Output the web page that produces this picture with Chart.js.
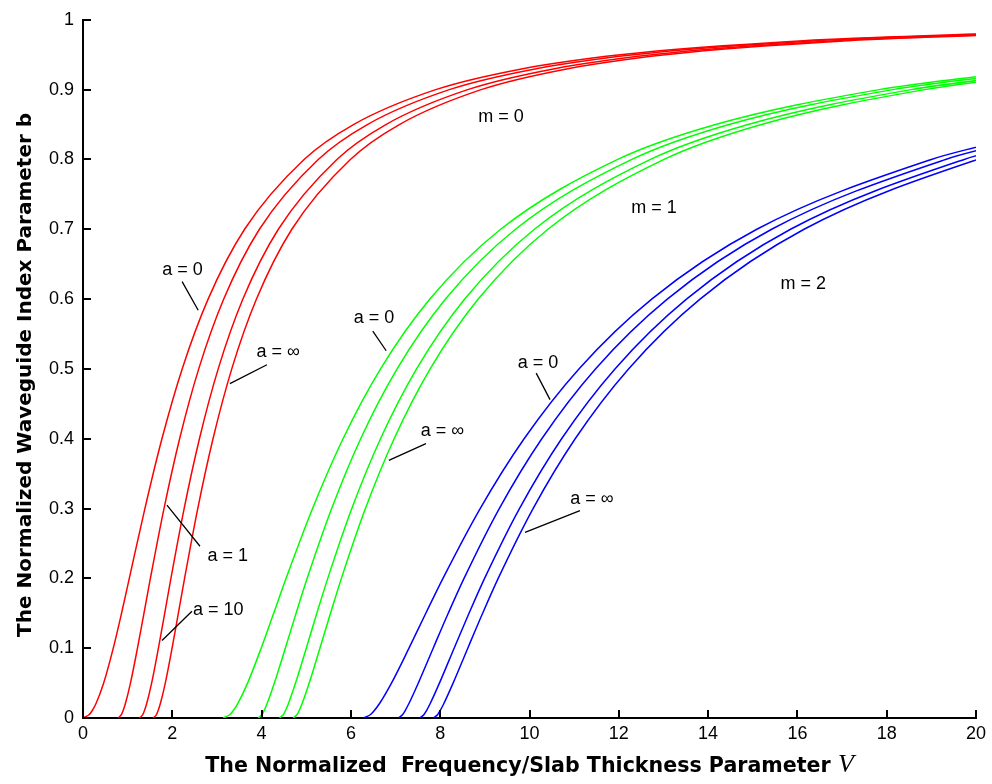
<!DOCTYPE html>
<html>
<head>
<meta charset="utf-8">
<script src="https://cdn.jsdelivr.net/npm/chart.js@4.4.1/dist/chart.umd.min.js"></script>
<style>
  html, body { margin: 0; padding: 0; background: #fff; }
  #wrap { width: 992px; height: 784px; }
</style>
</head>
<body>
<div id="wrap"><canvas id="myChart" width="992" height="784"></canvas></div>
<script>
// normalized index b levels (y) and the V values read for each curve
const bM0 = [0, 0.005, 0.01, 0.02, 0.05, 0.1, 0.15, 0.2, 0.3, 0.4, 0.5, 0.6, 0.7, 0.8, 0.85, 0.9, 0.93, 0.95, 0.97, 0.98];
const vM0A0 = [0, 0.142, 0.201, 0.287, 0.463, 0.678, 0.863, 1.037, 1.386, 1.768, 2.221, 2.802, 3.619, 4.951, 6.058, 7.900, 9.850, 12.033, 16.128, 20.208];
const vM0A1 = [0.785, 0.861, 0.895, 0.947, 1.063, 1.220, 1.365, 1.509, 1.814, 2.164, 2.592, 3.152, 3.951, 5.269, 6.368, 8.204, 10.151, 12.331, 16.426, 20.503];
const vM0A10 = [1.265, 1.339, 1.373, 1.424, 1.537, 1.689, 1.830, 1.969, 2.265, 2.608, 3.028, 3.581, 4.375, 5.686, 6.783, 8.615, 10.560, 12.740, 16.831, 20.909];
const vM0Ainf = [1.571, 1.646, 1.679, 1.730, 1.843, 1.995, 2.135, 2.275, 2.570, 2.912, 3.332, 3.885, 4.677, 5.988, 7.085, 8.917, 10.862, 13.041, 17.133, 21.211];

const bM1 = [0, 0.005, 0.01, 0.02, 0.05, 0.1, 0.15, 0.2, 0.3, 0.4, 0.5, 0.6, 0.7, 0.8, 0.85, 0.9, 0.92];
const vM1A0 = [3.142, 3.291, 3.359, 3.460, 3.686, 3.990, 4.270, 4.549, 5.141, 5.824, 6.664, 7.769, 9.355, 11.976, 14.169, 17.834, 20.187];
const vM1A1 = [3.927, 4.010, 4.052, 4.120, 4.286, 4.531, 4.772, 5.021, 5.569, 6.219, 7.035, 8.119, 9.687, 12.293, 14.470, 18.139, 20.489];
const vM1A10 = [4.406, 4.489, 4.531, 4.597, 4.760, 5.001, 5.237, 5.482, 6.020, 6.663, 7.471, 8.549, 10.110, 12.710, 14.894, 18.550, 20.899];
const vM1Ainf = [4.712, 4.795, 4.837, 4.904, 5.066, 5.306, 5.543, 5.787, 6.325, 6.968, 7.775, 8.852, 10.413, 13.013, 15.196, 18.852, 21.201];

const bM2 = [0, 0.005, 0.01, 0.02, 0.05, 0.1, 0.15, 0.2, 0.3, 0.4, 0.5, 0.6, 0.7, 0.8, 0.82];
const vM2A0 = [6.283, 6.441, 6.516, 6.634, 6.909, 7.301, 7.678, 8.062, 8.895, 9.879, 11.107, 12.737, 15.091, 19.001, 20.149];
const vM2A1 = [7.069, 7.160, 7.210, 7.294, 7.509, 7.843, 8.180, 8.534, 9.323, 10.275, 11.477, 13.086, 15.423, 19.318, 20.464];
const vM2A10 = [7.548, 7.638, 7.688, 7.771, 7.983, 8.312, 8.645, 8.994, 9.775, 10.719, 11.914, 13.516, 15.846, 19.735, 20.879];
const vM2Ainf = [7.854, 7.945, 7.994, 8.077, 8.289, 8.618, 8.950, 9.299, 10.080, 11.023, 12.218, 13.819, 16.149, 20.038, 21.182];

const xTicks = [0, 2, 4, 6, 8, 10, 12, 14, 16, 18, 20];
const yTicks = [0, 0.1, 0.2, 0.3, 0.4, 0.5, 0.6, 0.7, 0.8, 0.9, 1];

// labels drawn on the plot, placed in data units (V, b)
const notes = [
  { text: 'a = 0', v: 2.23, b: 0.641 },
  { text: 'a = \u221E', v: 4.37, b: 0.524 },
  { text: 'a = 1', v: 3.24, b: 0.232 },
  { text: 'a = 10', v: 3.03, b: 0.154 },
  { text: 'a = 0', v: 6.52, b: 0.573 },
  { text: 'a = \u221E', v: 8.05, b: 0.411 },
  { text: 'a = 0', v: 10.19, b: 0.508 },
  { text: 'a = \u221E', v: 11.40, b: 0.314 },
  { text: 'm = 0', v: 9.36, b: 0.861 },
  { text: 'm = 1', v: 12.79, b: 0.730 },
  { text: 'm = 2', v: 16.13, b: 0.621 }
];
const leaders = [
  [2.22, 0.625, 2.58, 0.584],
  [4.12, 0.506, 3.29, 0.479],
  [1.88, 0.305, 2.62, 0.246],
  [2.44, 0.153, 1.77, 0.111],
  [6.49, 0.554, 6.79, 0.526],
  [7.68, 0.393, 6.85, 0.369],
  [10.15, 0.494, 10.46, 0.456],
  [11.13, 0.297, 9.90, 0.266]
];

function curve(vs, bs, color) {
  return {
    data: vs.map((v, i) => ({ x: v, y: bs[i] })),
    borderColor: color,
    borderWidth: 1.5,
    pointRadius: 0,
    fill: false,
    cubicInterpolationMode: 'monotone'
  };
}

const RED = '#ff0000', GREEN = '#00ff00', BLUE = '#0000ff';

const extras = {
  id: 'extras',
  afterDraw(chart) {
    const ctx = chart.ctx;
    const xs = chart.scales.x, ys = chart.scales.y;
    const area = chart.chartArea;
    ctx.save();
    // inward tick marks
    ctx.strokeStyle = '#000';
    ctx.lineWidth = 2;
    ctx.beginPath();
    xTicks.forEach(t => {
      const px = Math.round(xs.getPixelForValue(t));
      ctx.moveTo(px, area.bottom);
      ctx.lineTo(px, area.bottom - 8);
    });
    yTicks.forEach(t => {
      const py = Math.round(ys.getPixelForValue(t));
      ctx.moveTo(area.left, py);
      ctx.lineTo(area.left + 8, py);
    });
    ctx.stroke();

    // leader lines
    ctx.lineWidth = 1.3;
    ctx.beginPath();
    leaders.forEach(l => {
      ctx.moveTo(xs.getPixelForValue(l[0]), ys.getPixelForValue(l[1]));
      ctx.lineTo(xs.getPixelForValue(l[2]), ys.getPixelForValue(l[3]));
    });
    ctx.stroke();

    // annotations
    ctx.fillStyle = '#000';
    ctx.font = '18px "Liberation Sans", Arial, sans-serif';
    ctx.textAlign = 'center';
    ctx.textBaseline = 'middle';
    notes.forEach(n => {
      ctx.fillText(n.text, xs.getPixelForValue(n.v), ys.getPixelForValue(n.b));
    });

    // axis titles
    const titleFont = 'bold 20.6px "DejaVu Sans", sans-serif';
    const vFont = 'italic 26px "Liberation Serif", serif';
    ctx.textBaseline = 'alphabetic';
    ctx.textAlign = 'left';
    const xText = 'The Normalized  Frequency/Slab Thickness Parameter ';
    ctx.font = titleFont;
    const w1 = ctx.measureText(xText).width;
    ctx.font = vFont;
    const w2 = ctx.measureText('V').width;
    const cx = (area.left + area.right) / 2;
    const x0 = cx - (w1 + w2) / 2;
    ctx.font = titleFont;
    ctx.fillText(xText, x0, 772);
    ctx.font = vFont;
    ctx.fillText('V', x0 + w1, 772);

    ctx.font = 'bold 20px "DejaVu Sans", sans-serif';
    ctx.translate(31, (area.top + area.bottom) / 2 + 6);
    ctx.rotate(-Math.PI / 2);
    ctx.textAlign = 'center';
    ctx.fillText('The Normalized Waveguide Index Parameter b', 0, 0);
    ctx.restore();
  }
};

const ctx = document.getElementById('myChart').getContext('2d');
const myChart = new Chart(ctx, {
  type: 'line',
  data: {
    datasets: [
      curve(vM0A0, bM0, RED),
      curve(vM0A1, bM0, RED),
      curve(vM0A10, bM0, RED),
      curve(vM0Ainf, bM0, RED),
      curve(vM1A0, bM1, GREEN),
      curve(vM1A1, bM1, GREEN),
      curve(vM1A10, bM1, GREEN),
      curve(vM1Ainf, bM1, GREEN),
      curve(vM2A0, bM2, BLUE),
      curve(vM2A1, bM2, BLUE),
      curve(vM2A10, bM2, BLUE),
      curve(vM2Ainf, bM2, BLUE)
    ]
  },
  options: {
    responsive: false,
    animation: false,
    layout: { padding: { left: 0, right: 16, top: 14, bottom: 0 } },
    plugins: {
      legend: { display: false },
      tooltip: { enabled: false },
      title: { display: false }
    },
    scales: {
      x: {
        type: 'linear',
        min: 0,
        max: 20,
        afterFit: s => { s.height = 66; },
        afterBuildTicks: s => { s.ticks = xTicks.map(v => ({ value: v })); },
        ticks: {
          color: '#000',
          padding: 5,
          maxRotation: 0,
          font: { family: '"Liberation Sans", Arial, sans-serif', size: 18 }
        },
        grid: { display: true, drawOnChartArea: false, drawTicks: false, color: '#000' },
        border: { display: true, color: '#000', width: 2 }
      },
      y: {
        type: 'linear',
        min: 0,
        max: 1,
        afterFit: s => { s.width = 83; },
        afterBuildTicks: s => { s.ticks = yTicks.map(v => ({ value: v })); },
        ticks: {
          color: '#000',
          padding: 9,
          callback: v => String(Math.round(v * 10) / 10),
          font: { family: '"Liberation Sans", Arial, sans-serif', size: 18 }
        },
        grid: { display: true, drawOnChartArea: false, drawTicks: false, color: '#000' },
        border: { display: true, color: '#000', width: 2 }
      }
    }
  },
  plugins: [extras]
});
</script>
</body>
</html>
